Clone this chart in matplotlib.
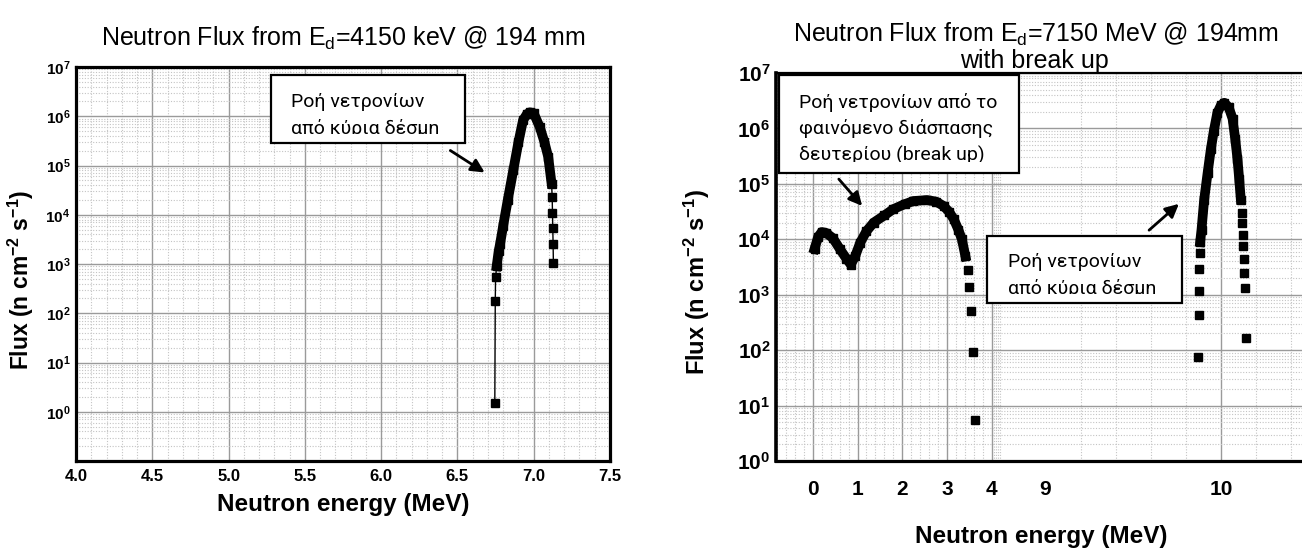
import numpy as np
import matplotlib
matplotlib.use("Agg")
import matplotlib.pyplot as plt
from matplotlib.patches import Rectangle, FancyArrowPatch
from matplotlib.ticker import FixedLocator, FixedFormatter, LogLocator, NullFormatter

plt.rcParams['font.family'] = ['Liberation Sans', 'DejaVu Sans']
plt.rcParams['mathtext.fontset'] = 'custom'
plt.rcParams['mathtext.rm'] = 'Liberation Sans'
plt.rcParams['mathtext.bf'] = 'Liberation Sans:bold'
plt.rcParams['mathtext.it'] = 'Liberation Sans:italic'

# --- data ---
# left: Ed = 4150 keV, main beam only
left_e = [6.745, 6.748, 6.750, 6.757, 6.770, 6.780, 6.800, 6.830, 6.866, 6.900,
          6.930, 6.955, 6.975, 7.000, 7.040, 7.070, 7.095, 7.117,
          7.121, 7.123, 7.125, 7.127, 7.129]
left_flux = [1.5, 175, 540, 900, 1800, 2600, 6000, 2.0e4, 8.0e4, 3.0e5,
             8.3e5, 1.1e6, 1.2e6, 1.15e6, 6.0e5, 3.0e5, 1.5e5, 4.3e4,
             2.3e4, 1.1e4, 5.4e3, 2.6e3, 1.05e3]
left_dense = (3, 18)

# right: Ed = 7150 keV with deuteron break up
bu_e = [0.04, 0.12, 0.20, 0.30, 0.45, 0.61, 0.75, 0.85, 0.95, 1.06, 1.20, 1.36,
        1.60, 1.80, 2.05, 2.25, 2.55, 2.75, 2.92, 3.05, 3.15, 3.25, 3.33, 3.41,
        3.46, 3.50, 3.54, 3.58, 3.62]
bu_flux = [6.7e3, 1.1e4, 1.35e4, 1.3e4, 1.05e4, 6.6e3, 4.5e3, 3.5e3, 5.0e3, 8.7e3,
           1.4e4, 2.0e4, 2.7e4, 3.5e4, 4.3e4, 4.9e4, 5.1e4, 4.8e4, 4.0e4, 3.1e4,
           2.3e4, 1.5e4, 1.0e4, 4.9e3, 2.8e3, 1.4e3, 500, 93, 5.5]
bu_dense = (0, 24)

main_e = [9.869, 9.873, 9.876, 9.878, 9.880, 9.882, 9.890, 9.905, 9.925, 9.943,
          9.960, 9.980, 10.000, 10.020, 10.045, 10.067, 10.082, 10.095, 10.105,
          10.114, 10.118, 10.122, 10.126, 10.127, 10.131, 10.133, 10.139, 10.143]
main_flux = [75, 425, 1180, 2900, 5700, 8900, 1.5e4, 5.2e4, 1.6e5, 4.2e5,
             9.0e5, 1.9e6, 2.6e6, 2.9e6, 2.4e6, 1.5e6, 6.5e5, 2.8e5, 1.2e5,
             5.2e4, 3.0e4, 2.0e4, 1.2e4, 7.5e3, 4.4e3, 2.5e3, 1.3e3, 166]
main_dense = (5, 20)

left_xticks = [4.0, 4.5, 5.0, 5.5, 6.0, 6.5, 7.0, 7.5]
right_xticks = [0, 1, 2, 3, 4, 9, 10]
left_yticks = [1e0, 1e1, 1e2, 1e3, 1e4, 1e5, 1e6, 1e7]
ytick_labels = [r'$\mathbf{10^{%d}}$' % i for i in range(8)]
flux_label = r'Flux (n cm$^{\mathbf{-2}}$ s$^{\mathbf{-1}}$)'

W, H = 1302, 550
fig = plt.figure(figsize=(W / 100, H / 100), dpi=100)


def fx(x):
    return x / W


def fy(y):
    return 1 - y / H


def style_grid(ax):
    ax.grid(which='major', color='#9a9a9a', lw=1.0, ls='-')
    ax.grid(which='minor', color='#c4c4c4', lw=0.8, ls=(0, (1, 1.5)))
    ax.set_axisbelow(True)
    ax.tick_params(which='both', length=0)
    ax.yaxis.set_minor_locator(LogLocator(base=10, subs=np.arange(2, 10), numticks=50))
    ax.yaxis.set_minor_formatter(NullFormatter())


# ---------------- left panel ----------------
ax1 = fig.add_axes([fx(76), fy(461), (610 - 76) / W, (461 - 67) / H])
ax1.set_yscale('log')
ax1.set_xlim(4.0, 7.5)
ax1.set_ylim(1e-1, 1e7)
ax1.plot(left_e, left_flux, color='k', lw=1, marker='s', ms=6, mec='k', mfc='k')
a, b = left_dense
ax1.plot(left_e[a:b], left_flux[a:b], color='k', lw=7, solid_capstyle='projecting')
ax1.xaxis.set_major_locator(FixedLocator(left_xticks))
ax1.xaxis.set_major_formatter(FixedFormatter(['%.1f' % v for v in left_xticks]))
ax1.xaxis.set_minor_locator(FixedLocator(np.arange(4.0, 7.51, 0.1)))
ax1.yaxis.set_major_locator(FixedLocator(left_yticks))
ax1.yaxis.set_major_formatter(FixedFormatter(ytick_labels))
style_grid(ax1)
ax1.tick_params(axis='x', labelsize=12, pad=6)
ax1.tick_params(axis='y', labelsize=11, pad=4)
for lab in ax1.get_xticklabels():
    lab.set_fontweight('bold')
for s in ax1.spines.values():
    s.set_linewidth(2.3)
fig.text(fx(343), fy(504), 'Neutron energy (MeV)', ha='center', va='center',
         fontsize=17.5, fontweight='bold')
fig.text(fx(21), fy(280), flux_label, rotation=90, ha='center', va='center',
         fontsize=16.5, fontweight='bold')
fig.text(fx(343), fy(46), r'Neutron Flux from E$_{\mathrm{d}}$=4150 keV @ 194 mm',
         ha='center', va='baseline', fontsize=18)

# ---------------- right panel (broken energy axis) ----------------
bx = [-10.0, 4.0, 9.0, 20.0]
bu = [-447.0, 178.8, 232.3, 232.3 + 11 * 175.0]


def fwd(x):
    return np.interp(x, bx, bu)


def inv(u):
    return np.interp(u, bu, bx)


ax2 = fig.add_axes([fx(776), fy(461), (1312 - 776) / W, (461 - 73) / H])
ax2.set_xscale('function', functions=(fwd, inv))
ax2.set_yscale('log')
ax2.set_xlim(-0.82, 10.52)
ax2.set_ylim(1e0, 1e7)
for e, f, (a, b) in [(bu_e, bu_flux, bu_dense), (main_e, main_flux, main_dense)]:
    ax2.plot(e, f, ls='none', marker='s', ms=6, color='k')
    ax2.plot(e[a:b], f[a:b], color='k', lw=7, solid_capstyle='projecting')
ax2.xaxis.set_major_locator(FixedLocator(right_xticks))
ax2.xaxis.set_major_formatter(FixedFormatter([str(v) for v in right_xticks]))
minor_x = list(np.arange(-0.8, 4.81, 0.2)) + list(np.arange(9.2, 10.51, 0.2))
ax2.xaxis.set_minor_locator(FixedLocator(minor_x))
ax2.yaxis.set_major_locator(FixedLocator(left_yticks))
ax2.yaxis.set_major_formatter(FixedFormatter(ytick_labels))
style_grid(ax2)
ax2.get_xgridlines()[5].set_visible(False)
ax2.tick_params(axis='x', labelsize=15, pad=14)
ax2.tick_params(axis='y', labelsize=15, pad=4)
for lab in ax2.get_xticklabels():
    lab.set_fontweight('bold')
ax2.spines['left'].set_linewidth(2.6)
ax2.spines['bottom'].set_linewidth(2.3)
ax2.spines['top'].set_linewidth(1.6)
ax2.spines['right'].set_visible(False)
fig.text(fx(1041), fy(537), 'Neutron energy (MeV)', ha='center', va='center',
         fontsize=17.5, fontweight='bold')
fig.text(fx(697), fy(282), flux_label, rotation=90, ha='center', va='center',
         fontsize=17, fontweight='bold')
fig.text(fx(1036), fy(42), r'Neutron Flux from E$_{\mathrm{d}}$=7150 MeV @ 194mm',
         ha='center', va='baseline', fontsize=18)
fig.text(fx(1034), fy(68), 'with break up', ha='center', va='baseline', fontsize=18)


# ---------------- annotation boxes (text cut off at the bottom, as in the source) ----------------
def note(x0, y0, x1, y1, lines, tx, base0, dy, clip_y):
    rect = Rectangle((fx(x0), fy(y1)), (x1 - x0) / W, (y1 - y0) / H,
                     transform=fig.transFigure, facecolor='white', edgecolor='black',
                     lw=1.6, zorder=5)
    fig.add_artist(rect)
    clip = Rectangle((fx(x0), fy(clip_y)), (x1 - x0) / W, (clip_y - y0) / H,
                     transform=fig.transFigure, visible=False)
    fig.add_artist(clip)
    for i, line in enumerate(lines):
        t = fig.text(fx(tx), fy(base0 + i * dy), line, ha='left', va='baseline',
                     fontsize=14, family=['Roboto', 'DejaVu Sans'], zorder=6)
        t.set_clip_path(clip)


def arrow(x0, y0, x1, y1):
    fig.add_artist(FancyArrowPatch((fx(x0), fy(y0)), (fx(x1), fy(y1)),
                                   transform=fig.transFigure, arrowstyle='-|>',
                                   mutation_scale=20, lw=2, color='k', zorder=7))


note(271, 75, 465, 143, ['Ροή νετρονίων', 'από κύρια δέσμη'], 291, 107, 27, 134)
arrow(448, 149, 487, 174)

note(779, 75, 1019, 173, ['Ροή νετρονίων από το', 'φαινόμενο διάσπασης',
                          'δευτερίου (break up)'], 799, 108, 26.5, 162)
arrow(837, 177, 864, 208)

note(987, 236, 1182, 303, ['Ροή νετρονίων', 'από κύρια δέσμη'], 1008, 267, 27, 294)
arrow(1147, 232, 1181, 202)

fig.savefig('out.png', dpi=100)
